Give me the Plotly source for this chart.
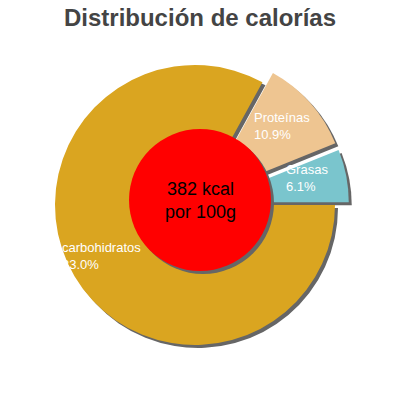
import plotly.graph_objects as go

# data
labels = ["carbohidratos", "Proteínas", "Grasas"]
values = [83.0, 10.9, 6.1]
colors = ["#DAA520", "#EEC591", "#7AC5CD"]
pulls = [0, 0.1, 0.1]
center_text = "382 kcal<br>por 100g"
title_text = "Distribución de calorías"

W, H = 400, 400
SHADOW = "#666666"


def px_x(v):
    return v / W


def px_y(v):
    return 1 - v / H


# pie box: center (195, 205), half size 154 px -> radius 140 with pull 0.1
cx, cy, half = 195, 205, 154
off = 3  # shadow offset in px

fig = go.Figure()

# shadow pie
fig.add_trace(go.Pie(
    labels=labels, values=values, sort=False, direction="clockwise", rotation=90,
    pull=pulls, marker=dict(colors=[SHADOW] * 3, line=dict(width=0)),
    textinfo="none", hoverinfo="skip", showlegend=False,
    domain=dict(x=[px_x(cx - half + off), px_x(cx + half + off)],
                y=[px_y(cy + half + off), px_y(cy - half + off)]),
))

# main pie
fig.add_trace(go.Pie(
    labels=labels, values=values, sort=False, direction="clockwise", rotation=90,
    pull=pulls, marker=dict(colors=colors, line=dict(width=0)),
    textinfo="none", showlegend=False,
    domain=dict(x=[px_x(cx - half), px_x(cx + half)],
                y=[px_y(cy + half), px_y(cy - half)]),
))

# red center circle with its shadow
rx, ry, rr = 200, 200, 71
fig.add_shape(type="circle", xref="paper", yref="paper", layer="above",
              x0=px_x(rx - rr + off), x1=px_x(rx + rr + off),
              y0=px_y(ry + rr + off), y1=px_y(ry - rr + off),
              fillcolor=SHADOW, line=dict(width=0))
fig.add_shape(type="circle", xref="paper", yref="paper", layer="above",
              x0=px_x(rx - rr), x1=px_x(rx + rr),
              y0=px_y(ry + rr), y1=px_y(ry - rr),
              fillcolor="#FF0000", line=dict(width=0))

fig.add_annotation(x=px_x(rx), y=px_y(ry), xref="paper", yref="paper",
                   text=center_text, showarrow=False,
                   font=dict(family="Liberation Sans", size=18, color="black"))

# slice labels
label_pos = [(60, 256), (252, 126), (284, 178)]
for lab, val, (lx, ly) in zip(labels, values, label_pos):
    fig.add_annotation(x=px_x(lx), y=px_y(ly), xref="paper", yref="paper",
                       xanchor="left", yanchor="middle", align="left",
                       text=f"{lab}<br>{val:.1f}%", showarrow=False,
                       font=dict(family="Liberation Sans", size=13, color="white"))

fig.update_layout(
    width=W, height=H,
    margin=dict(l=0, r=0, t=0, b=0),
    paper_bgcolor="white",
    title=dict(text=title_text, x=px_x(200), xanchor="center", y=px_y(18), yanchor="middle",
               font=dict(family="Liberation Sans", size=24, color="#444444", weight="bold")),
)

# drop the default body margin so the figure sits at the window corner
fig.write_html("out.html", config={"displayModeBar": False},
               post_script="document.body.style.margin = '0';")
